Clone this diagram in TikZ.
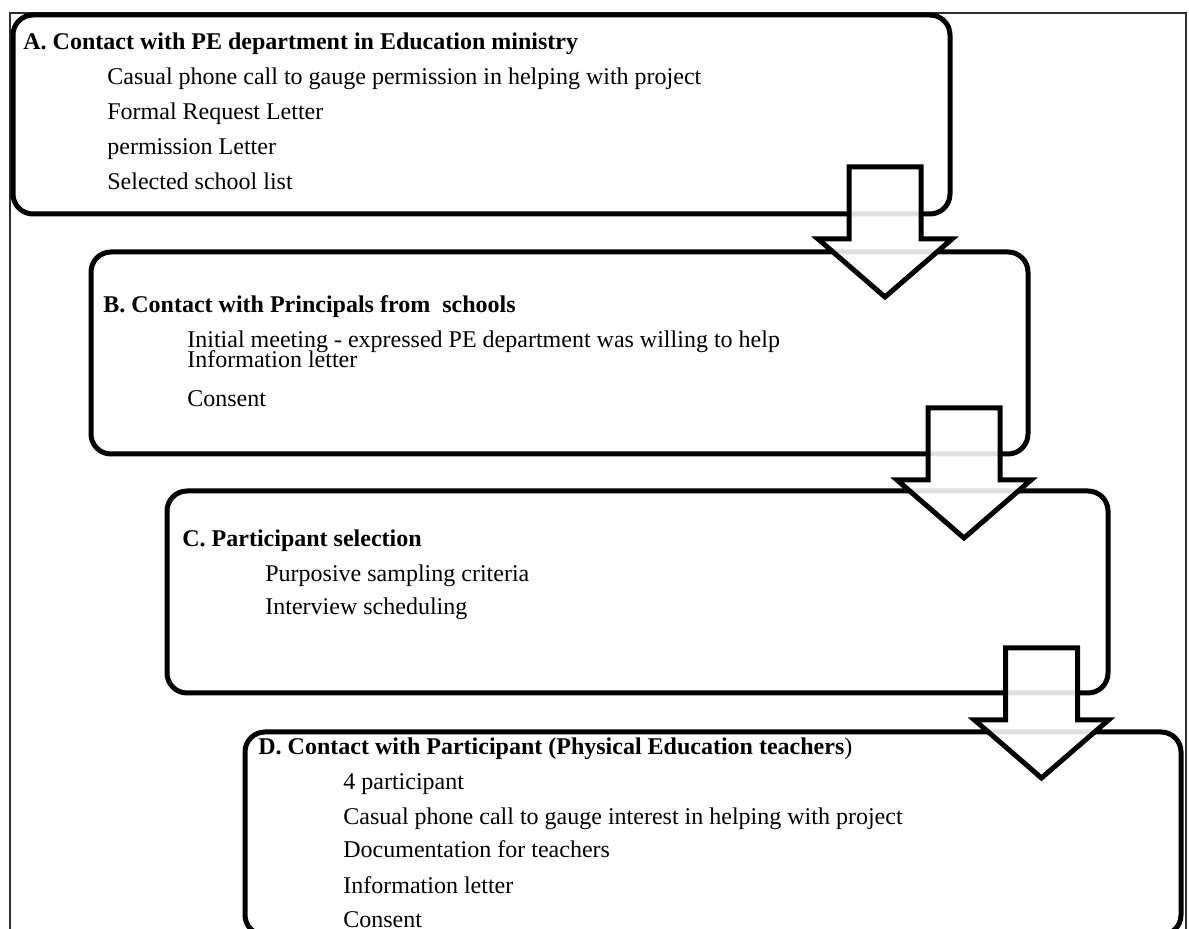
\documentclass[tikz,border=0pt]{standalone}
\usepackage{fontspec}
\setmainfont{Liberation Serif}
\usetikzlibrary{calc}
\begin{document}
\begin{tikzpicture}[x=0.5pt,y=-0.5pt,
  stage/.style={draw=black, line width=2.5pt, rounded corners=10pt, inner sep=0pt, outer sep=0pt},
  headtext/.style={anchor=base west, inner sep=0pt, font=\fontsize{12}{14}\selectfont\bfseries},
  itemtext/.style={anchor=base west, inner sep=0pt, font=\fontsize{12}{14}\selectfont},
  flow/.style={draw=black, line width=2.5pt, fill=white, fill opacity=0.88, miter limit=10},
  frame/.style={draw=black!82, line width=1.2pt},
  blockarrow/.pic={\path[flow] (-36,0) -- (36,0) -- (36,72) -- (67,72) -- (0,130) -- (-67,72) -- (-36,72) -- cycle;}]
\useasboundingbox (0,0) rectangle (1189,929);
\clip (0,0) rectangle (1189,929);
% outer frame
\coordinate (fbl) at (10,945);
\coordinate (ftl) at (10,13);
\coordinate (ftr) at (1186,13);
\coordinate (fbr) at (1186,945);
\draw[frame] (fbl) -- (ftl) -- (ftr) -- (fbr);
% boxes
\node[stage, minimum width=468.5pt, minimum height=99.5pt] (A) at (481.5,114.5) {};
\node[stage, minimum width=468.5pt, minimum height=101pt] (B) at (559.5,353) {};
\node[stage, minimum width=470.5pt, minimum height=101pt] (C) at (637.5,592) {};
\node[stage, minimum width=468pt, minimum height=101.5pt] (D) at (713,833.5) {};
% texts A
\node[headtext] (ha) at (23,50) {A. Contact with PE department in Education ministry};
\node[itemtext] (a1) at (107,85) {Casual phone call to gauge permission in helping with project};
\node[itemtext] (a2) at (107,120) {Formal Request Letter};
\node[itemtext] (a3) at (107,155) {permission Letter};
\node[itemtext] (a4) at (107,190) {Selected school list};
% texts B
\node[headtext] (hb) at (103,313) {B. Contact with Principals from\ \ schools};
\node[itemtext] (b1) at (187,348) {Initial meeting - expressed PE department was willing to help};
\node[itemtext] (b2) at (187,368) {Information letter};
\node[itemtext] (b3) at (187,407) {Consent};
% texts C
\node[headtext] (hc) at (182,547) {C. Participant selection};
\node[itemtext] (c1) at (265,582) {Purposive sampling criteria};
\node[itemtext] (c2) at (265,615) {Interview scheduling};
% texts D
\node[headtext] (hd) at (258,755) {D. Contact with Participant (Physical Education teachers\textmd{)}};
\node[itemtext] (d1) at (343,790) {4 participant};
\node[itemtext] (d2) at (343,825) {Casual phone call to gauge interest in helping with project};
\node[itemtext] (d3) at (343,858) {Documentation for teachers};
\node[itemtext] (d4) at (343,893) {Information letter};
\node[itemtext] (d5) at (343,928) {Consent};
% block arrows
\pic at ($(A.south east)+(-65,-47)$) {blockarrow};
\pic at ($(B.south east)+(-64,-46)$) {blockarrow};
\pic at ($(C.south east)+(-66.5,-45)$) {blockarrow};
\end{tikzpicture}
\end{document}
